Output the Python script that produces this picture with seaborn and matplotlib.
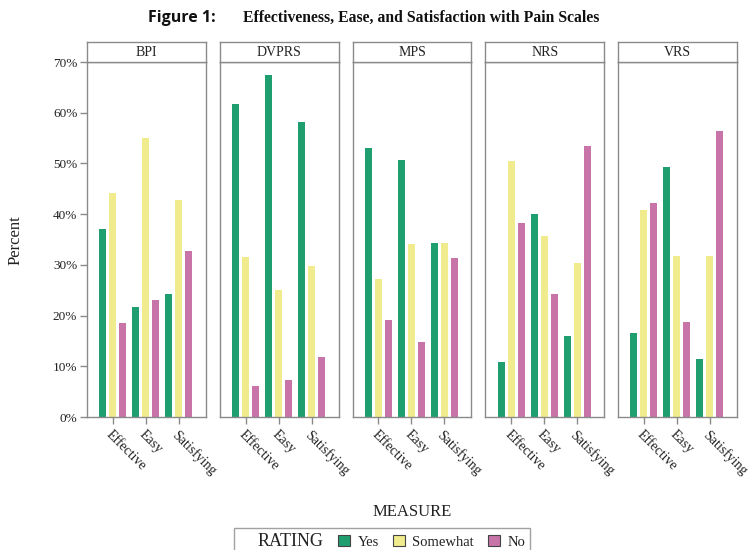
import matplotlib
matplotlib.use("Agg")
import matplotlib.pyplot as plt
import matplotlib.patches as mpatches
import seaborn as sns
import pandas as pd

scales = ["BPI", "DVPRS", "MPS", "NRS", "VRS"]
measures = ["Effective", "Easy", "Satisfying"]
ratings = ["Yes", "Somewhat", "No"]

# percent values per scale: rows = measures, cols = ratings (Yes, Somewhat, No)
bpi = [[37.0, 44.2, 18.5], [21.7, 55.0, 23.0], [24.2, 42.8, 32.8]]
dvprs = [[61.8, 31.6, 6.2], [67.5, 25.0, 7.3], [58.1, 29.7, 11.8]]
mps = [[53.1, 27.2, 19.2], [50.6, 34.2, 14.8], [34.3, 34.3, 31.3]]
nrs = [[10.9, 50.5, 38.2], [40.0, 35.6, 24.3], [15.9, 30.3, 53.5]]
vrs = [[16.6, 40.8, 42.2], [49.2, 31.7, 18.8], [11.4, 31.7, 56.4]]
values = {"BPI": bpi, "DVPRS": dvprs, "MPS": mps, "NRS": nrs, "VRS": vrs}

yticks = [0, 10, 20, 30, 40, 50, 60, 70]
colors = {"Yes": "#1f9e70", "Somewhat": "#f0ec8e", "No": "#c874a8"}

rows = []
for s in scales:
    for i, m in enumerate(measures):
        for j, r in enumerate(ratings):
            rows.append({"scale": s, "measure": m, "rating": r, "percent": values[s][i][j]})
df = pd.DataFrame(rows)

sns.set_theme(style="white")
plt.rcParams["font.family"] = ["Liberation Serif", "DejaVu Serif"]

W, H = 748, 550
txt = "#222222"
fig, axes = plt.subplots(1, 5, figsize=(W / 100, H / 100), dpi=100, sharey=True)
fig.subplots_adjust(left=87 / W, right=737 / W, bottom=1 - 417 / H, top=1 - 62 / H, wspace=0.118)

edge = "#8a8a8a"
for ax, s in zip(axes, scales):
    sub = df[df["scale"] == s]
    sns.barplot(data=sub, x="measure", y="percent", hue="rating", order=measures,
                hue_order=ratings, palette=colors, width=0.91, gap=0.3, saturation=1,
                linewidth=0, errorbar=None, ax=ax, legend=False)
    ax.set_xlim(-0.78, 2.82)
    ax.set_ylim(0, 70)
    ax.set_xlabel("")
    ax.set_ylabel("")
    for sp in ax.spines.values():
        sp.set_visible(True)
        sp.set_color(edge)
        sp.set_linewidth(1)
    ax.tick_params(axis="x", direction="out", length=5, color=edge, width=1,
                   bottom=True, labelsize=10, pad=3)
    ax.set_xticks(range(len(measures)))
    ax.set_xticklabels(measures, rotation=-45, ha="left", va="top", rotation_mode="anchor")
    for lab in ax.get_xticklabels():
        lab.set_color(txt)
    # header strip directly above the panel
    pos = ax.get_position()
    hax = fig.add_axes([pos.x0, pos.y1, pos.width, 20 / H])
    hax.set_xticks([])
    hax.set_yticks([])
    for sp in hax.spines.values():
        sp.set_color(edge)
        sp.set_linewidth(1)
    hax.text(0.5, 0.5, s, ha="center", va="center", fontsize=10, color=txt,
             transform=hax.transAxes)

axes[0].set_yticks(yticks)
axes[0].set_yticklabels([f"{v}%" for v in yticks])
axes[0].tick_params(axis="y", direction="out", length=5, color=edge, width=1,
                    left=True, labelsize=9.5, pad=2)
for lab in axes[0].get_yticklabels():
    lab.set_color(txt)
for ax in axes[1:]:
    ax.tick_params(axis="y", left=False)

fig.text(16 / W, 1 - 240 / H, "Percent", rotation=90, ha="center", va="center",
         fontsize=12, color=txt)
fig.text(412 / W, 1 - 512 / H, "MEASURE", ha="center", va="center",
         fontsize=12, color=txt)

# title
fig.text(148 / W, 1 - 18 / H, "Figure 1:", ha="left", va="center", fontsize=11.5,
         fontweight="bold", family=["Open Sans", "DejaVu Sans"], color="#111111")
fig.text(243 / W, 1 - 18 / H, "Effectiveness, Ease, and Satisfaction with Pain Scales",
         ha="left", va="center", fontsize=11.3, fontweight="bold", color="#111111")

# legend
blank = mpatches.Patch(facecolor="none", edgecolor="none")
handles = [blank] + [mpatches.Patch(facecolor=colors[r], edgecolor="#444444", linewidth=0.8)
                     for r in ratings]
labels = ["RATING"] + ratings
leg = fig.legend(handles, labels, ncol=4, loc="center", bbox_to_anchor=(382 / W, 1 - 541 / H),
                 frameon=True, fancybox=False, edgecolor=edge, fontsize=10.5,
                 handlelength=0.8, handleheight=0.8, handletextpad=0.5, columnspacing=1.0,
                 borderpad=0.3)
texts = leg.get_texts()
texts[0].set_fontsize(13)
leg.get_frame().set_linewidth(1)
for t in texts:
    t.set_color(txt)
leg.legend_handles[0].set_width(0)

fig.savefig("out.png", dpi=100)
